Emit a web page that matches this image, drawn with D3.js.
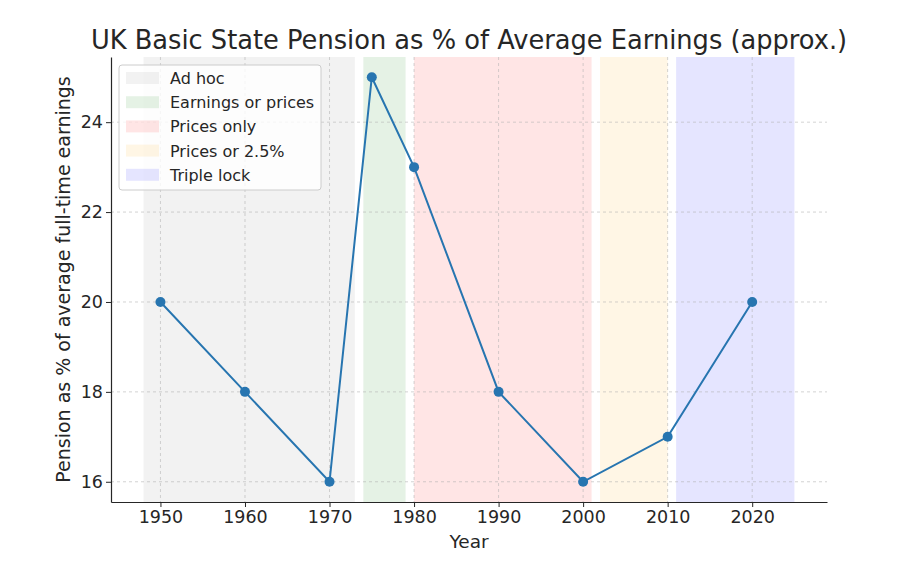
<!DOCTYPE html>
<html>
<head>
<meta charset="utf-8">
<title>UK Basic State Pension</title>
<script src="https://d3js.org/d3.v7.min.js"></script>
<style>
    body { margin: 0; background: #fff; }
    text { font-family: "DejaVu Sans", sans-serif; fill: #262626; }
</style>
</head>
<body>
<div id="chart"></div>
<script>
    const years = [1950, 1960, 1970, 1975, 1980, 1990, 2000, 2010, 2020];
    const pensionPct = [20, 18, 16, 25, 23, 18, 16, 17, 20];

    const regimeNames = ["Ad hoc", "Earnings or prices", "Prices only", "Prices or 2.5%", "Triple lock"];
    const regimeStart = [1948, 1974, 1980, 2002, 2011];
    const regimeEnd = [1973, 1979, 2001, 2010, 2025];
    const regimeColors = ["gray", "green", "red", "orange", "blue"];

    const xTicks = [1950, 1960, 1970, 1980, 1990, 2000, 2010, 2020];
    const yTicks = [16, 18, 20, 22, 24];

    const width = 903, height = 585;
    const margin = { top: 57, right: 76, bottom: 83, left: 111 };

    const svg = d3.select("#chart")
        .append("svg")
        .attr("width", width)
        .attr("height", height);

    const x = d3.scaleLinear().domain([1944.15, 2028.85])
        .range([margin.left, width - margin.right]);
    const y = d3.scaleLinear().domain([15.55, 25.45])
        .range([height - margin.bottom, margin.top]);

    // shaded policy periods
    svg.selectAll("rect.regime")
        .data(regimeNames)
        .join("rect")
        .attr("class", "regime")
        .attr("x", (d, i) => x(regimeStart[i]))
        .attr("width", (d, i) => x(regimeEnd[i]) - x(regimeStart[i]))
        .attr("y", margin.top)
        .attr("height", height - margin.bottom - margin.top)
        .attr("fill", (d, i) => regimeColors[i])
        .attr("fill-opacity", 0.1);

    // grid
    svg.append("g")
        .selectAll("line")
        .data(xTicks)
        .join("line")
        .attr("x1", d => x(d)).attr("x2", d => x(d))
        .attr("y1", margin.top).attr("y2", height - margin.bottom)
        .attr("stroke", "#b0b0b0").attr("stroke-opacity", 0.7)
        .attr("stroke-width", 0.8).attr("stroke-dasharray", "3,3");
    svg.append("g")
        .selectAll("line")
        .data(yTicks)
        .join("line")
        .attr("y1", d => y(d)).attr("y2", d => y(d))
        .attr("x1", margin.left).attr("x2", width - margin.right)
        .attr("stroke", "#b0b0b0").attr("stroke-opacity", 0.7)
        .attr("stroke-width", 0.8).attr("stroke-dasharray", "3,3");

    // axes
    const xAxis = svg.append("g")
        .attr("transform", `translate(0,${height - margin.bottom})`)
        .call(d3.axisBottom(x).tickValues(xTicks).tickFormat(d3.format("d")).tickSize(5).tickPadding(4).tickSizeOuter(0));
    const yAxis = svg.append("g")
        .attr("transform", `translate(${margin.left},0)`)
        .call(d3.axisLeft(y).tickValues(yTicks).tickSize(5).tickPadding(3).tickSizeOuter(0));
    [xAxis, yAxis].forEach(g => {
        g.selectAll("text").style("font-size", "17.5px").attr("fill", "#262626");
        g.selectAll("line").attr("stroke", "#262626").attr("stroke-width", 1);
        g.select(".domain").attr("stroke", "#262626").attr("stroke-width", 1.2);
    });

    // line + markers
    const line = d3.line().x((d, i) => x(years[i])).y(d => y(d));
    svg.append("path")
        .datum(pensionPct)
        .attr("d", line)
        .attr("fill", "none")
        .attr("stroke", "#2775b0")
        .attr("stroke-width", 2);
    svg.selectAll("circle.pt")
        .data(pensionPct)
        .join("circle")
        .attr("class", "pt")
        .attr("cx", (d, i) => x(years[i]))
        .attr("cy", d => y(d))
        .attr("r", 5)
        .attr("fill", "#2775b0");

    // titles
    svg.append("text")
        .attr("x", (margin.left + width - margin.right) / 2)
        .attr("y", 49)
        .attr("text-anchor", "middle")
        .style("font-size", "25.7px")
        .text("UK Basic State Pension as % of Average Earnings (approx.)");
    svg.append("text")
        .attr("x", (margin.left + width - margin.right) / 2)
        .attr("y", 548)
        .attr("text-anchor", "middle")
        .style("font-size", "18.5px")
        .text("Year");
    svg.append("text")
        .attr("transform", `translate(70,${(margin.top + height - margin.bottom) / 2}) rotate(-90)`)
        .attr("text-anchor", "middle")
        .style("font-size", "19px")
        .text("Pension as % of average full-time earnings");

    // legend
    const lg = svg.append("g").attr("transform", "translate(119,65)");
    lg.append("rect")
        .attr("width", 202).attr("height", 125).attr("rx", 3)
        .attr("fill", "white").attr("fill-opacity", 0.8)
        .attr("stroke", "#cccccc");
    const item = lg.selectAll("g.item")
        .data(regimeNames)
        .join("g")
        .attr("class", "item")
        .attr("transform", (d, i) => `translate(7,${7 + i * 24.2})`);
    item.append("rect")
        .attr("width", 33).attr("height", 12)
        .attr("fill", (d, i) => regimeColors[i])
        .attr("fill-opacity", 0.1);
    item.append("text")
        .attr("x", 44).attr("y", 12)
        .style("font-size", "16px")
        .text(d => d);
</script>
</body>
</html>
